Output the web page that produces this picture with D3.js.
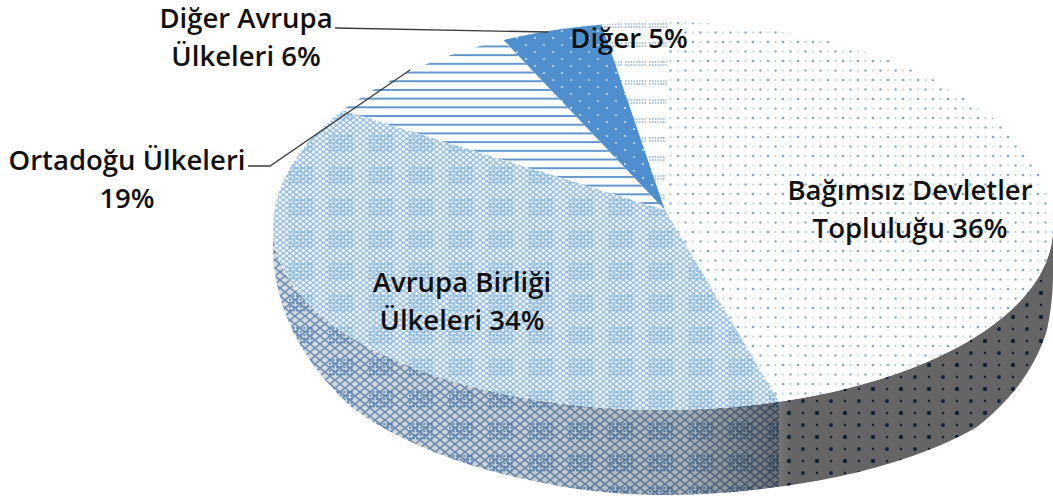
<!DOCTYPE html>
<html>
<head>
<meta charset="utf-8">
<script src="https://cdn.jsdelivr.net/npm/d3@7"></script>
<style>
  html, body { margin: 0; padding: 0; background: #fff; }
  svg { display: block; }
  .label { font-family: "Open Sans", Lato, sans-serif; font-weight: 600; font-size: 27.5px; fill: #111; }
  .leader { fill: none; stroke: #3c3c3c; stroke-width: 1.3; }
</style>
</head>
<body>
<div id="chart"></div>
<script>
const WIDTH = 1053, HEIGHT = 499;

const categories = ["Bağımsız Devletler Topluluğu", "Avrupa Birliği Ülkeleri", "Ortadoğu Ülkeleri", "Diğer Avrupa Ülkeleri", "Diğer"];
// percentages printed on the labels
const printedShares = [36, 34, 19, 6, 5];
// slice sizes as measured on the drawn pie, they differ from the printed ones in the source
const drawnShares = [45, 39.5, 8.6, 4.2, 2.7];
const patternIds = ["dots", "lattice", "stripes", "blueDots", "dashes"];
const wallPatternIds = ["wallDots", "wallLattice", "wallLattice", "wallLattice", "wallLattice"];

const labelLines = [
  ["Bağımsız Devletler", "Topluluğu 36%"],
  ["Avrupa Birliği", "Ülkeleri 34%"],
  ["Ortadoğu Ülkeleri", "19%"],
  ["Diğer Avrupa", "Ülkeleri 6%"],
  ["Diğer 5%"]
];
const labelAnchors = [[910, 200], [462, 292], [127, 170], [246, 28], [629, 48]];

// pie is seen in perspective: back half of the rim is taller than the front half
const CX = 663, CY = 228, RX = 390, RY_BACK = 206, RY_FRONT = 182;
const APEX = [665, 210];
const rad = Math.PI / 180;

// wall height is not constant, it tapers towards both ends and more on the left
const depthLeft = d3.scaleLinear().domain([0, 0.366, 0.607, 0.94, 1]).range([18, 50, 70, 81, 85]);
const depthRight = d3.scaleLinear().domain([0, 0.174, 0.42, 0.593, 0.955, 1]).range([45, 70, 83, 91, 85, 85]);

const rim = a => {
  const c = Math.cos(a);
  return [CX + RX * Math.sin(a), CY - (c > 0 ? RY_BACK : RY_FRONT) * c];
};
const rimBottom = a => {
  const p = rim(a), k = Math.max(0, -Math.cos(a));
  return [p[0], p[1] + (Math.sin(a) < 0 ? depthLeft(k) : depthRight(k))];
};
const sample = (a0, a1) => d3.range(0, 61).map(i => a0 + (a1 - a0) * i / 60);
const line = d3.line();

const svg = d3.select("#chart").append("svg").attr("width", WIDTH).attr("height", HEIGHT);
const defs = svg.append("defs");

function addPattern(id, w, h, bg) {
  const p = defs.append("pattern").attr("id", id)
    .attr("patternUnits", "userSpaceOnUse").attr("width", w).attr("height", h);
  p.append("rect").attr("width", w).attr("height", h).attr("fill", bg);
  return p;
}

// criss-cross lines that wrap cleanly on the tile, plus a small block of dots in the middle
function addLattice(p, w, h, step, color, width, cluster) {
  d3.range(-w, w + step, step).forEach(x => {
    p.append("path").attr("d", `M${x},0L${x + w},${h}`).attr("stroke", color).attr("stroke-width", width);
    p.append("path").attr("d", `M${x},${h}L${x + w},0`).attr("stroke", color).attr("stroke-width", width);
  });
  d3.range(w / 2 - 11, w / 2 + 11, 3.6).forEach(x => d3.range(h / 2 - 9, h / 2 + 9, 3.6).forEach(y => {
    p.append("rect").attr("x", x).attr("y", y).attr("width", 2).attr("height", 2).attr("fill", cluster);
  }));
}

const dots = addPattern("dots", 15, 19, "#fdfeff");
[[3, 4, 1.35, "#8ea6c6"], [10.5, 4, 0.9, "#b3c6dc"], [3, 13.5, 0.9, "#c3d3e5"], [10.5, 13.5, 1.3, "#96aecb"]].forEach(d =>
  dots.append("circle").attr("cx", d[0]).attr("cy", d[1]).attr("r", d[2]).attr("fill", d[3]));

addLattice(addPattern("lattice", 40, 32, "#eff6fc"), 40, 32, 40 / 6, "#8fb6df", 1.1, "#86b8e6");

const stripes = addPattern("stripes", 10, 8.7, "#fbfdff");
stripes.append("rect").attr("y", 2).attr("width", 10).attr("height", 1.9).attr("fill", "#5f93cb");

const blueDots = addPattern("blueDots", 18, 14, "#4f8ecf");
[[4, 3], [13, 10]].forEach(d => blueDots.append("circle").attr("cx", d[0]).attr("cy", d[1]).attr("r", 1.1).attr("fill", "#c5e0f6"));

const dashes = addPattern("dashes", 24, 19, "#fdfeff");
[5, 8].forEach(y => dashes.append("path").attr("d", `M1,${y}H22`).attr("stroke", "#9ab2cf").attr("stroke-width", 1.5).attr("stroke-dasharray", "1.6 1.2"));

const wallDots = addPattern("wallDots", 28, 24, "#f6f6f6");
[[5, 5, 2.2], [19, 17, 1.9], [19, 5, 1.3], [5, 17, 1.3]].forEach(d =>
  wallDots.append("circle").attr("cx", d[0]).attr("cy", d[1]).attr("r", d[2]).attr("fill", "#33527a"));

addLattice(addPattern("wallLattice", 40, 32, "#d9e4ef"), 40, 32, 10, "#7491b3", 1.5, "#5f8fc4");

// wall shading goes darker towards the right
const shade = defs.append("linearGradient").attr("id", "wallShade")
  .attr("gradientUnits", "userSpaceOnUse").attr("x1", 273).attr("x2", 790).attr("y1", 0).attr("y2", 0);
[[0, 0.03], [0.5, 0.1], [0.8, 0.22], [0.97, 0.5], [1, 0.59]].forEach(s =>
  shade.append("stop").attr("offset", s[0]).attr("stop-color", "#000").attr("stop-opacity", s[1]));

const pie = d3.pie().sort(null).value(d => d).startAngle(0.7 * rad).endAngle((360 + 0.7) * rad);
const arcs = pie(drawnShares);

// front wall, only the part of each slice between 90 and 270 degrees shows
const walls = svg.append("g");
arcs.forEach((arc, i) => {
  const a0 = Math.max(arc.startAngle, 90 * rad), a1 = Math.min(arc.endAngle, 270 * rad);
  if (a1 <= a0) return;
  const angles = sample(a0, a1);
  const d = line(angles.map(rim).concat(angles.slice().reverse().map(rimBottom))) + "Z";
  walls.append("path").attr("d", d).attr("fill", `url(#${wallPatternIds[i]})`);
  walls.append("path").attr("d", d).attr("fill", "url(#wallShade)");
});

// top face
svg.append("g").selectAll("path").data(arcs).join("path")
  .attr("d", d => line([APEX].concat(sample(d.startAngle, d.endAngle).map(rim))) + "Z")
  .attr("fill", (d, i) => `url(#${patternIds[i]})`);

// leaders
svg.append("path").attr("class", "leader").attr("d", line([[335, 28], [548, 32]]));
svg.append("path").attr("class", "leader").attr("d", line([[248, 166], [270, 166], [410, 70]]));

// labels
const labels = svg.append("g");
labelLines.forEach((lines, i) => {
  const t = labels.append("text").attr("class", "label").attr("text-anchor", "middle");
  lines.forEach((s, j) => {
    t.append("tspan").attr("x", labelAnchors[i][0]).attr("y", labelAnchors[i][1] + j * 38).text(s);
  });
});
</script>
</body>
</html>
